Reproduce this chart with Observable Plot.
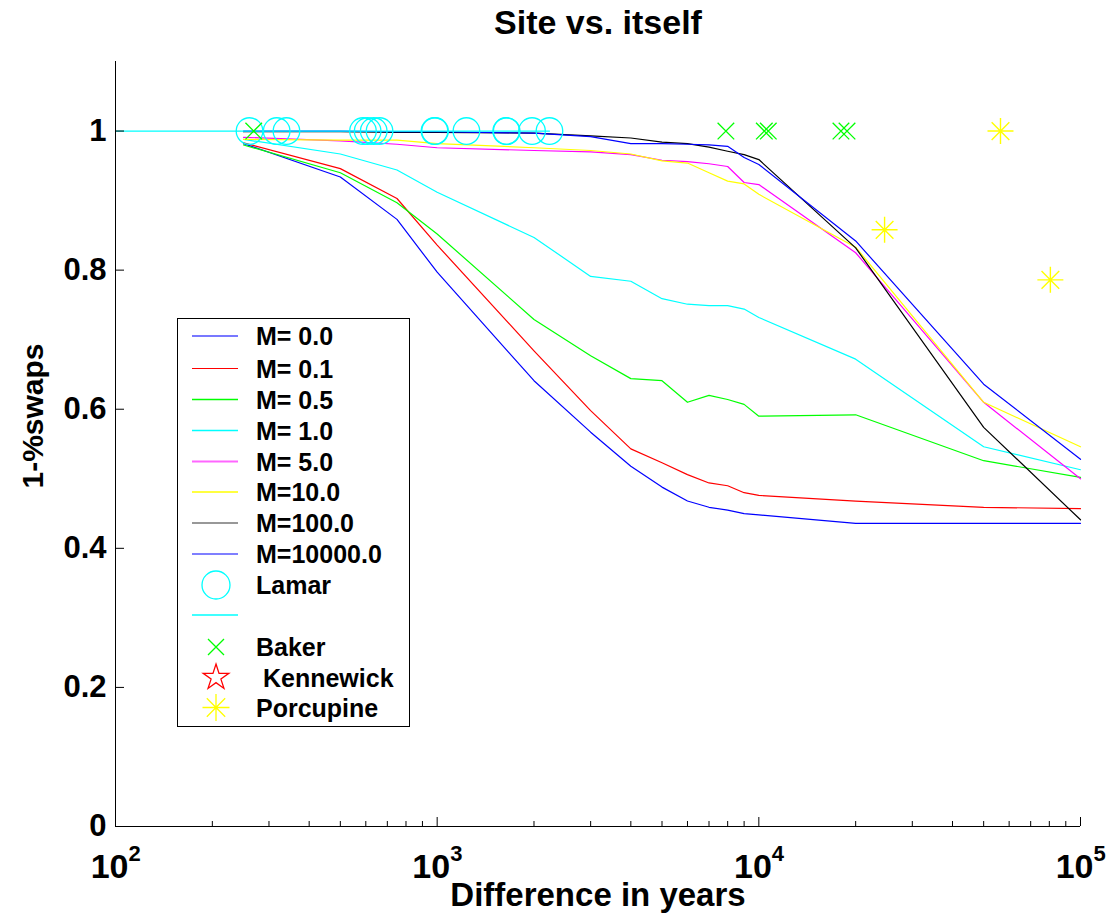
<!DOCTYPE html>
<html><head><meta charset="utf-8">
<script src="https://cdn.jsdelivr.net/npm/d3@7"></script>
<script src="https://cdn.jsdelivr.net/npm/@observablehq/plot@0.6"></script>
<style>
body{margin:0;background:#fff;}
#wrap{position:relative;width:1117px;height:922px;font-family:"Liberation Sans",Arial,sans-serif;}
#legend{position:absolute;left:0;top:0;pointer-events:none;}
</style></head><body><div id="wrap"></div>
<script>
// ---- data ----
const years = [250,500,750,1000,2000,3000,4000,5000,6000,7000,8000,9000,10000,20000,50000,100000];
const m0_0     = [0.982,0.934,0.873,0.797,0.641,0.567,0.518,0.488,0.468,0.459,0.455,0.450,0.448,0.436,0.436,0.436];
const m0_1     = [0.983,0.946,0.903,0.836,0.684,0.598,0.543,0.523,0.506,0.494,0.490,0.480,0.476,0.468,0.459,0.457];
const m0_5     = [0.980,0.940,0.897,0.852,0.729,0.677,0.644,0.641,0.610,0.620,0.614,0.607,0.590,0.592,0.526,0.502];
const m1_0     = [0.988,0.967,0.944,0.912,0.847,0.791,0.784,0.759,0.751,0.749,0.749,0.744,0.732,0.672,0.546,0.513];
const m5_0     = [0.991,0.986,0.981,0.976,0.972,0.970,0.966,0.958,0.956,0.953,0.949,0.926,0.923,0.825,0.610,0.500];
const m10_0    = [0.988,0.987,0.987,0.982,0.976,0.972,0.967,0.957,0.954,0.940,0.928,0.924,0.909,0.833,0.610,0.546];
const m100_0   = [0.999,0.999,0.998,0.998,0.997,0.993,0.990,0.984,0.982,0.977,0.971,0.966,0.959,0.832,0.574,0.441];
const m10000_0 = [1.000,1.000,0.999,0.999,0.997,0.992,0.982,0.982,0.981,0.980,0.978,0.962,0.952,0.842,0.636,0.528];

const seriesNames  = ["M= 0.0","M= 0.1","M= 0.5","M= 1.0","M= 5.0","M=10.0","M=100.0","M=10000.0"];
const seriesValues = [m0_0,m0_1,m0_5,m1_0,m5_0,m10_0,m100_0,m10000_0];
const seriesColors = ["#0000ff","#ff0000","#00ff00","#00ffff","#ff00ff","#ffff00","#000000","#0000ff"];

const lamarX = [261,317,340,588,608,635,662,981,985,1233,1639,1645,1972,2234];
const lamarY = [1,1,1,1,1,1,1,1,1,1,1,1,1,1];
const lamarLineX = [100,2234];
const lamarLineY = [1,1];
const bakerX = [269,7900,10400,10700,18000,18800];
const bakerY = [1,1,1,1,1,1];
const kennewickX = [];
const kennewickY = [];
const porcupineX = [24600,56400,80600];
const porcupineY = [0.858,1.0,0.786];

const yTicks = [0,0.2,0.4,0.6,0.8,1];
const xMajor = [100,1000,10000,100000];
const xMinor = [200,300,400,500,600,700,800,900,2000,3000,4000,5000,6000,7000,8000,9000,20000,30000,40000,50000,60000,70000,80000,90000];

const titleText = "Site vs. itself";
const xLabel = "Difference in years";
const yLabel = "1-%swaps";

// ---- symbols ----
const symTimes = {draw(ctx,size){const r=Math.sqrt(size/Math.PI);ctx.moveTo(-r,-r);ctx.lineTo(r,r);ctx.moveTo(r,-r);ctx.lineTo(-r,r);}};
const symAster = {draw(ctx,size){const r=Math.sqrt(size/Math.PI);const d=r*0.68;ctx.moveTo(-r,0);ctx.lineTo(r,0);ctx.moveTo(0,-r);ctx.lineTo(0,r);ctx.moveTo(-d,-d);ctx.lineTo(d,d);ctx.moveTo(d,-d);ctx.lineTo(-d,d);}};
const symStar = {draw(ctx,size){const R=Math.sqrt(size/Math.PI);const r=R*0.382;for(let i=0;i<10;i++){const a=-Math.PI/2+i*Math.PI/5;const rr=i%2?r:R;const px=rr*Math.cos(a),py=rr*Math.sin(a);if(i===0)ctx.moveTo(px,py);else ctx.lineTo(px,py);}ctx.closePath();}};

const pts = (xs,ys)=>xs.map((x,i)=>({x, y: ys[i]}));

const lineMarks = seriesValues.map((vals,k)=>Plot.line(pts(years,vals),{x:"x",y:"y",stroke:seriesColors[k],strokeWidth:1.2}));

const font = "Liberation Sans, Arial, sans-serif";

const plot = Plot.plot({
  width:1117, height:922,
  marginLeft:115, marginRight:37, marginTop:61, marginBottom:96,
  x:{type:"log", domain:[100,100000], axis:null},
  y:{domain:[0,1.1], axis:null},
  style:{fontFamily:font, background:"white", overflow:"visible", color:"black"},
  marks:[
    ...lineMarks,
    Plot.dot(pts(lamarX,lamarY),{x:"x",y:"y",r:13.3,stroke:"#00ffff",fill:"none",strokeWidth:1.3}),
    Plot.line(pts(lamarLineX,lamarLineY),{x:"x",y:"y",stroke:"#00ffff",strokeWidth:1.3}),
    Plot.dot(pts(bakerX,bakerY),{x:"x",y:"y",r:8.3,symbol:symTimes,stroke:"#00ff00",fill:"none",strokeWidth:1.3}),
    Plot.dot(pts(kennewickX,kennewickY),{x:"x",y:"y",r:13,symbol:symStar,stroke:"#ff0000",fill:"none",strokeWidth:1.3}),
    Plot.dot(pts(porcupineX,porcupineY),{x:"x",y:"y",r:13,symbol:symAster,stroke:"#ffff00",fill:"none",strokeWidth:1.4}),
    // axes
    Plot.ruleX([100],{stroke:"black",strokeWidth:1}),
    Plot.ruleY([0],{stroke:"black",strokeWidth:1}),
    Plot.axisY(yTicks,{anchor:"left",tickSize:9,dx:9,tickFormat:()=>"",label:null,stroke:"black"}),
    Plot.axisY(yTicks,{anchor:"left",tickSize:0,tickPadding:9,fontSize:31,fontWeight:"bold",fill:"black",label:null,tickFormat:d=>d3.format("~g")(d)}),
    Plot.axisX(xMajor,{anchor:"bottom",tickSize:9,dy:-9,tickFormat:()=>"",label:null,stroke:"black"}),
    Plot.axisX(xMinor,{anchor:"bottom",tickSize:5,dy:-5,tickFormat:()=>"",label:null,stroke:"black"}),
    Plot.text(xMajor,{x:d=>d,frameAnchor:"bottom",text:()=>"10",textAnchor:"end",dx:13,dy:51,fontSize:34,fontWeight:"bold",fill:"black"}),
    Plot.text(xMajor,{x:d=>d,frameAnchor:"bottom",text:d=>String(Math.round(Math.log10(d))),textAnchor:"start",dx:13,dy:34,fontSize:22,fontWeight:"bold",fill:"black"}),
    Plot.text([titleText],{text:d=>d,frameAnchor:"top",dy:-52,fontSize:34,fontWeight:"bold",fill:"black"}),
    Plot.text([xLabel],{text:d=>d,frameAnchor:"bottom",dy:79,fontSize:33,fontWeight:"bold",fill:"black"}),
    Plot.text([yLabel],{text:d=>d,frameAnchor:"left",textAnchor:"middle",dx:-82,dy:-28,rotate:-90,fontSize:30,fontWeight:"bold",fill:"black"})
  ]
});
const wrap = document.getElementById("wrap");
wrap.appendChild(plot);

// ---- legend (MATLAB-style box inside axes) ----
const legendEntries = [
  {label:seriesNames[0], kind:"line", color:"#7878ff", w:2},
  {label:seriesNames[1], kind:"line", color:seriesColors[1], w:1.2},
  {label:seriesNames[2], kind:"line", color:seriesColors[2], w:1.3},
  {label:seriesNames[3], kind:"line", color:seriesColors[3], w:1.6},
  {label:seriesNames[4], kind:"line", color:"#ff66ff", w:2},
  {label:seriesNames[5], kind:"line", color:seriesColors[5], w:1.4},
  {label:seriesNames[6], kind:"line", color:"#333333", w:1.2},
  {label:seriesNames[7], kind:"line", color:seriesColors[7], w:1.2},
  {label:"Lamar", kind:"circle", color:"#00ffff"},
  {label:"", kind:"line", color:"#00ffff", w:1.3},
  {label:"Baker", kind:"times", color:"#00ff00"},
  {label:" Kennewick", kind:"star", color:"#ff0000"},
  {label:"Porcupine", kind:"aster", color:"#ffff00"}
];
const rowY = [336,368.5,399.5,430.5,461.5,492,523,554,585,615,647,677.5,707.5];
const svg = d3.select(wrap).append("svg").attr("id","legend").attr("width",1117).attr("height",922);
svg.append("rect").attr("x",177.5).attr("y",318.5).attr("width",232).attr("height",408).attr("fill","white").attr("stroke","black").attr("stroke-width",1);
legendEntries.forEach((e,i)=>{
  const y = rowY[i];
  const g = svg.append("g");
  if(e.kind==="line"){
    g.append("line").attr("x1",192).attr("x2",238).attr("y1",y).attr("y2",y).attr("stroke",e.color).attr("stroke-width",e.w);
  } else {
    const sym = e.kind==="circle"? d3.symbolCircle : e.kind==="times"? symTimes : e.kind==="star"? symStar : symAster;
    const r = e.kind==="circle"?14: e.kind==="times"?8: 13.5;
    g.append("path").attr("transform",`translate(216,${y})`).attr("d",d3.symbol(sym, Math.PI*r*r)()).attr("fill","none").attr("stroke",e.color).attr("stroke-width",1.3);
  }
  if(e.label) g.append("text").attr("x",256).attr("y",y+9).attr("font-family",font).attr("font-weight","bold").attr("font-size",25).attr("fill","black").attr("xml:space","preserve").style("white-space","pre").text(e.label);
});
</script>
</body></html>
